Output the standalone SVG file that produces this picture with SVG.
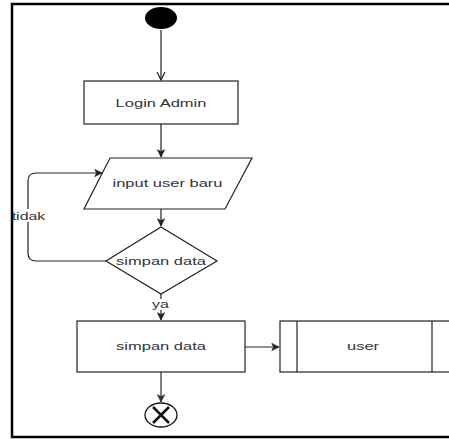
<svg xmlns="http://www.w3.org/2000/svg" width="449" height="439" viewBox="0 0 449 439">
<style>
.shape{fill:#fff;stroke:#222;stroke-width:1.2}
.edge{fill:none;stroke:#222;stroke-width:1.2}
.lbl{font-family:"Liberation Sans",Arial,sans-serif;font-size:11px;fill:#333;text-anchor:middle}
</style>
<defs>
<marker id="open" viewBox="0 0 10 10" refX="9" refY="5" markerWidth="10" markerHeight="10" markerUnits="userSpaceOnUse" orient="auto">
<path d="M1,1 L9,5 L1,9" fill="none" stroke="#222" stroke-width="1.2"/>
</marker>
<marker id="block" viewBox="0 0 10 10" refX="9" refY="5" markerWidth="9" markerHeight="9" markerUnits="userSpaceOnUse" orient="auto">
<path d="M1,1 L9,5 L1,9 L3,5 Z" fill="#222" stroke="#222" stroke-width="0.8"/>
</marker>
<marker id="blockg" viewBox="0 0 10 10" refX="9" refY="5" markerWidth="9" markerHeight="9" markerUnits="userSpaceOnUse" orient="auto">
<path d="M1,1 L9,5 L1,9 L3,5 Z" fill="#333" stroke="#333" stroke-width="0.8"/>
</marker>
</defs>
<rect width="449" height="439" fill="#fff"/>
<path d="M449,4 H12 V437 H449" fill="none" stroke="#000" stroke-width="2.5"/>

<g id="edges">
<path class="edge" d="M161,30 V80" marker-end="url(#open)"/>
<path class="edge" d="M161,124 V157" marker-end="url(#block)"/>
<path class="edge" d="M161,209 V226" marker-end="url(#block)"/>
<path class="edge" d="M106,261 H36 Q28,261 28,253 V181 Q28,173 36,173 H102" marker-end="url(#block)"/>
<rect x="14" y="209" width="29" height="13" fill="#fff"/>
<text class="lbl" transform="translate(28.5 220) scale(1.45 1)">tidak</text>
<path class="edge" d="M161,294 V320" marker-end="url(#block)"/>
<rect x="153" y="299" width="16" height="11" fill="#fff"/>
<text class="lbl" transform="translate(160.5 308) scale(1.45 1)">ya</text>
<path class="edge" d="M245,347 H279" marker-end="url(#block)"/>
<path d="M161,372 V402" fill="none" stroke="#555" stroke-width="1.5" marker-end="url(#blockg)"/>
</g>

<g id="start">
<ellipse cx="161" cy="18" rx="16" ry="11" fill="#000"/>
</g>

<g id="login-admin">
<rect class="shape" x="84" y="81" width="154" height="43"/>
<text class="lbl" transform="translate(161 107) scale(1.5 1)">Login Admin</text>
</g>

<g id="input-user-baru">
<polygon class="shape" points="110,158 252,158 225,209 84,209"/>
<text class="lbl" transform="translate(167.5 187) scale(1.5 1)">input user baru</text>
</g>

<g id="decision">
<polygon class="shape" points="161,227 217,261 161,294 106,261"/>
<text class="lbl" transform="translate(161 265) scale(1.5 1)">simpan data</text>
</g>

<g id="simpan-data">
<rect class="shape" x="77" y="321" width="168" height="51"/>
<text class="lbl" transform="translate(161 350) scale(1.5 1)">simpan data</text>
</g>

<g id="user">
<rect class="shape" x="280" y="321" width="172" height="51"/>
<line class="edge" x1="297" y1="321" x2="297" y2="372"/>
<line class="edge" x1="432" y1="321" x2="432" y2="372"/>
<text class="lbl" transform="translate(363 350) scale(1.5 1)">user</text>
</g>

<g id="end">
<ellipse cx="161" cy="415" rx="16" ry="12" fill="#fff" stroke="#111" stroke-width="1.3"/>
<path d="M153,407 L169,423 M169,407 L153,423" stroke="#111" stroke-width="2.5"/>
</g>
</svg>
